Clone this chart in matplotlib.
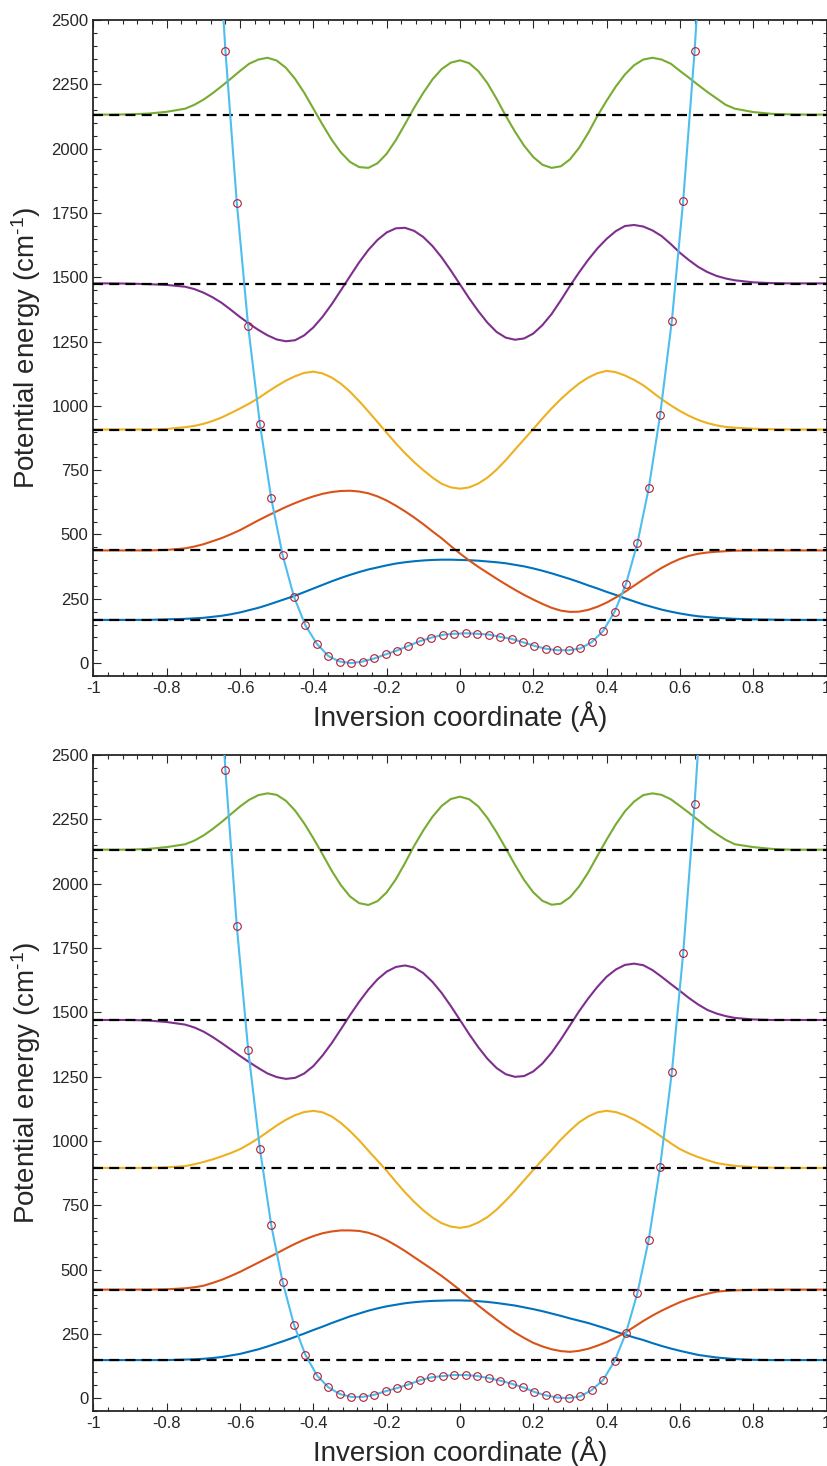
import numpy as np
import matplotlib.pyplot as plt
from matplotlib.ticker import MultipleLocator

plt.rcParams['font.family'] = ['Liberation Sans', 'DejaVu Sans']
plt.rcParams['mathtext.fontset'] = 'custom'
plt.rcParams['mathtext.rm'] = 'Liberation Sans'
plt.rcParams['mathtext.default'] = 'regular'

# tick labels
xtick_vals = [-1, -0.8, -0.6, -0.4, -0.2, 0, 0.2, 0.4, 0.6, 0.8, 1]
xtick_labels = ['-1', '-0.8', '-0.6', '-0.4', '-0.2', '0', '0.2', '0.4', '0.6', '0.8', '1']
ytick_vals = [0, 250, 500, 750, 1000, 1250, 1500, 1750, 2000, 2250, 2500]

# computed points of the potential (circles)
x_pts = [-0.640, -0.609, -0.578, -0.546, -0.515, -0.484, -0.453, -0.422, -0.390, -0.359,
         -0.328, -0.297, -0.266, -0.234, -0.203, -0.172, -0.141, -0.110, -0.078, -0.047,
         -0.016, 0.016, 0.047, 0.078, 0.110, 0.141, 0.172, 0.203, 0.234, 0.266,
         0.297, 0.328, 0.359, 0.390, 0.422, 0.453, 0.484, 0.515, 0.546, 0.578,
         0.609, 0.640]
pot_top = [2380, 1790, 1310, 930, 640, 420, 258, 147, 74, 27,
           6, 0, 6, 18, 34, 49, 67, 85, 99, 110,
           114, 116, 114, 111, 102, 94, 81, 67, 56, 50,
           50, 57, 81, 124, 200, 308, 466, 680, 964, 1330,
           1798, 2378]
pot_bot = [2440, 1835, 1355, 970, 672, 452, 286, 169, 88, 42,
           16, 5, 5, 13, 27, 39, 53, 69, 81, 86,
           90, 90, 86, 78, 68, 56, 42, 24, 11, 2,
           0, 7, 31, 70, 145, 254, 408, 616, 900, 1266,
           1730, 2310]
# where the fitted curve leaves the frame
end_x = [-0.671, 0.671]
end_top = [3100, 3090]
end_bot = [3160, 2990]

# energy levels (cm-1)
levels_top = [168, 438, 908, 1475, 2132]
levels_bot = [148, 422, 895, 1470, 2132]

# wavefunctions, drawn at their level
wf_x = [-1.0, -0.95, -0.9, -0.85, -0.8, -0.75,
        -0.725, -0.7, -0.675, -0.65, -0.625, -0.6, -0.575, -0.55, -0.525, -0.5,
        -0.475, -0.45, -0.425, -0.4, -0.375, -0.35, -0.325, -0.3, -0.275, -0.25,
        -0.225, -0.2, -0.175, -0.15, -0.125, -0.1, -0.075, -0.05, -0.025, 0.0,
        0.025, 0.05, 0.075, 0.1, 0.125, 0.15, 0.175, 0.2, 0.225, 0.25,
        0.275, 0.3, 0.325, 0.35, 0.375, 0.4, 0.425, 0.45, 0.475, 0.5,
        0.525, 0.55, 0.575, 0.6, 0.625, 0.65, 0.675, 0.7, 0.725,
        0.75, 0.8, 0.85, 0.9, 0.95, 1.0]

wf0_top = [168, 168, 168, 168, 170, 172,
           174, 176, 180, 184, 190, 197, 206, 215, 226, 238,
           250, 262, 276, 290, 304, 318, 331, 343, 354, 364,
           372, 380, 387, 392, 396, 399, 401, 402, 402, 401,
           400, 398, 395, 392, 388, 382, 376, 368, 359, 349,
           338, 327, 315, 302, 290, 277, 265, 252, 240, 228,
           218, 208, 200, 193, 187, 182, 179, 176, 174,
           172, 170, 169, 168, 168, 168]
wf1_top = [438, 438, 438, 438, 440, 446,
           453, 462, 474, 486, 501, 517, 536, 555, 573, 590,
           607, 622, 636, 648, 658, 665, 669, 670, 667, 660,
           648, 632, 612, 590, 566, 540, 512, 485, 455, 426,
           399, 374, 351, 328, 306, 285, 265, 247, 230, 215,
           204, 199, 200, 207, 219, 235, 255, 277, 301, 325,
           348, 370, 389, 405, 417, 425, 430, 433, 435,
           437, 438, 438, 438, 438, 438]
wf2_top = [908, 908, 908, 908, 910, 917,
           922, 930, 941, 955, 972, 990, 1009, 1030, 1054, 1077,
           1098, 1115, 1128, 1133, 1126, 1110, 1086, 1055, 1018, 978,
           937, 895, 854, 816, 781, 750, 721, 697, 683, 678,
           683, 698, 721, 752, 789, 830, 870, 910, 951, 990,
           1026, 1058, 1087, 1110, 1127, 1136, 1131, 1118, 1101, 1080,
           1053, 1026, 1002, 980, 961, 945, 933, 924, 918,
           915, 911, 909, 908, 908, 908]
wf3_top = [1476, 1476, 1475, 1473, 1470, 1463,
           1454, 1440, 1422, 1400, 1373, 1345, 1319, 1295, 1274, 1258,
           1251, 1255, 1274, 1305, 1346, 1395, 1449, 1504, 1558, 1606,
           1645, 1674, 1690, 1692, 1680, 1656, 1621, 1577, 1526, 1472,
           1418, 1368, 1323, 1287, 1265, 1257, 1262, 1281, 1314, 1357,
           1410, 1466, 1519, 1568, 1612, 1649, 1679, 1699, 1703, 1697,
           1682, 1660, 1629, 1595, 1566, 1540, 1520, 1505, 1495,
           1488, 1480, 1477, 1476, 1476, 1476]
wf4_top = [2132, 2132, 2133, 2136, 2143, 2155,
           2170, 2190, 2215, 2243, 2272, 2302, 2330, 2346, 2353, 2342,
           2314, 2271, 2217, 2155, 2093, 2034, 1985, 1948, 1928, 1925,
           1943, 1980, 2033, 2095, 2159, 2217, 2269, 2309, 2334, 2343,
           2332, 2301, 2254, 2193, 2127, 2066, 2011, 1967, 1937, 1925,
           1931, 1958, 2003, 2061, 2127, 2186, 2241, 2288, 2324, 2346,
           2353, 2346, 2330, 2302, 2275, 2247, 2220, 2195, 2170,
           2155, 2142, 2135, 2133, 2132, 2132]

wf0_bot = [148, 148, 148, 148, 148, 150,
           151, 153, 156, 160, 166, 172, 181, 190, 201, 213,
           225, 238, 251, 265, 278, 292, 305, 318, 329, 340,
           349, 357, 363, 369, 373, 376, 378, 379, 380, 380,
           379, 377, 374, 370, 365, 360, 353, 346, 338, 329,
           320, 310, 301, 292, 281, 270, 258, 247, 236, 226,
           214, 203, 193, 184, 176, 168, 163, 158, 155,
           152, 149, 148, 148, 148, 148]
wf1_bot = [422, 422, 422, 422, 423, 427,
           431, 437, 448, 460, 475, 491, 509, 527, 545, 563,
           582, 600, 616, 630, 641, 648, 652, 652, 650, 643,
           631, 614, 594, 572, 548, 524, 500, 475, 448, 420,
           390, 360, 332, 305, 279, 255, 234, 215, 201, 190,
           183, 180, 184, 192, 204, 218, 235, 254, 277, 300,
           321, 340, 357, 373, 386, 397, 406, 414, 417,
           419, 421, 422, 422, 422, 422]
wf2_bot = [895, 895, 895, 895, 897, 902,
           909, 918, 928, 940, 953, 968, 988, 1010, 1035, 1060,
           1082, 1100, 1112, 1117, 1111, 1095, 1070, 1038, 1002, 962,
           923, 884, 841, 800, 763, 730, 702, 680, 667, 662,
           668, 683, 704, 733, 768, 806, 847, 887, 927, 965,
           1005, 1040, 1072, 1095, 1111, 1117, 1112, 1100, 1083, 1062,
           1040, 1016, 991, 968, 951, 937, 925, 914, 908,
           903, 898, 896, 895, 895, 895]
wf3_bot = [1470, 1470, 1470, 1468, 1462, 1452,
           1441, 1425, 1404, 1380, 1355, 1330, 1306, 1283, 1262, 1248,
           1241, 1245, 1262, 1291, 1332, 1380, 1434, 1489, 1541, 1588,
           1628, 1658, 1676, 1682, 1674, 1652, 1618, 1575, 1524, 1470,
           1415, 1364, 1319, 1283, 1259, 1249, 1252, 1270, 1301, 1343,
           1394, 1449, 1504, 1554, 1599, 1638, 1666, 1684, 1689, 1683,
           1664, 1638, 1610, 1583, 1555, 1530, 1509, 1495, 1485,
           1478, 1472, 1470, 1470, 1470, 1470]
wf4_bot = [2132, 2132, 2132, 2135, 2142, 2153,
           2167, 2187, 2212, 2240, 2270, 2300, 2326, 2344, 2351, 2345,
           2322, 2284, 2234, 2176, 2114, 2050, 1994, 1950, 1924, 1917,
           1932, 1966, 2017, 2080, 2147, 2207, 2260, 2302, 2329, 2338,
           2328, 2300, 2255, 2199, 2137, 2073, 2014, 1966, 1933, 1918,
           1922, 1947, 1989, 2044, 2108, 2171, 2230, 2281, 2319, 2344,
           2351, 2345, 2328, 2302, 2275, 2247, 2218, 2193, 2170,
           2153, 2142, 2135, 2132, 2132, 2132]

wf_colors = ['#0072BD', '#D95319', '#EDB120', '#7E2F8E', '#77AC30']
pot_color = '#4DBEEE'
pt_color = '#B01E32'
ax_color = '#262626'


def panel(ax, levels, waves, pot, ends):
    for w, c in zip(waves, wf_colors):
        ax.plot(wf_x, w, color=c, lw=1.5, zorder=2)
    for e in levels:
        ax.axhline(e, color='k', lw=1.6, ls=(0, (4.5, 2.8)), zorder=3)
    cx = [end_x[0]] + x_pts + [end_x[1]]
    cy = [ends[0]] + pot + [ends[1]]
    ax.plot(cx, cy, color=pot_color, lw=1.5, zorder=4)
    ax.plot(x_pts, pot, 'o', ms=5.5, mfc='none', mec=pt_color, mew=0.8, zorder=5)

    ax.set_xlim(-1, 1)
    ax.set_ylim(-50, 2500)
    ax.set_xticks(xtick_vals, xtick_labels)
    ax.set_yticks(ytick_vals)
    ax.xaxis.set_minor_locator(MultipleLocator(0.04))
    ax.yaxis.set_minor_locator(MultipleLocator(50))
    ax.tick_params(which='both', direction='in', top=True, right=True,
                   width=0.8, color=ax_color, labelcolor=ax_color, labelsize=12)
    ax.tick_params(which='major', length=6)
    ax.tick_params(which='minor', length=3)
    for s in ax.spines.values():
        s.set_color(ax_color)
        s.set_linewidth(1.3)
    ax.set_xlabel('Inversion coordinate (Å)', fontsize=20, color=ax_color, labelpad=4)
    ax.set_ylabel(r'Potential energy (cm$^{\text{-}1}$)', fontsize=20, color=ax_color, labelpad=6)


fig = plt.figure(figsize=(8.28, 14.66), dpi=100)
ax1 = fig.add_axes([0.1129, 0.5389, 0.8853, 0.4475])
ax2 = fig.add_axes([0.1129, 0.0375, 0.8853, 0.4475])

panel(ax1, levels_top, [wf0_top, wf1_top, wf2_top, wf3_top, wf4_top], pot_top, end_top)
panel(ax2, levels_bot, [wf0_bot, wf1_bot, wf2_bot, wf3_bot, wf4_bot], pot_bot, end_bot)

fig.savefig('out.png', dpi=100)
